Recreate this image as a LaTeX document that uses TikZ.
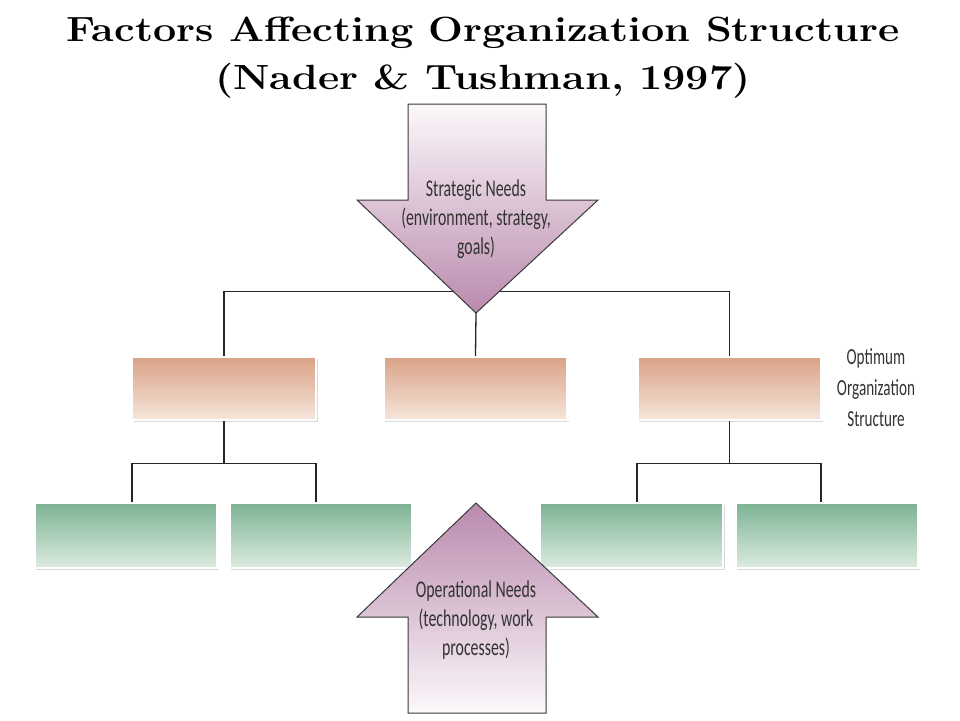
\documentclass[tikz,border=0pt]{standalone}
\usepackage{fontspec}
\usepackage{graphicx}
\usetikzlibrary{shadows}
\newfontfamily\condfont[FakeStretch=0.66]{Carlito}
\definecolor{orgtop}{HTML}{D9A286}
\definecolor{orgbot}{HTML}{F6E6DC}
\definecolor{grntop}{HTML}{7DB393}
\definecolor{grnbot}{HTML}{DDEBE0}
\definecolor{purdark}{HTML}{B98AAD}
\definecolor{purlight}{HTML}{FCF8FB}
\definecolor{edgegray}{HTML}{3A3A3A}
\tikzset{
  orgbox/.style={rectangle, draw=white, line width=2.5pt, minimum width=184pt, minimum height=63pt,
     top color=orgtop, bottom color=orgbot,
     drop shadow={shadow xshift=1.5pt, shadow yshift=-2pt, opacity=0.3, fill=gray}},
  grnbox/.style={rectangle, draw=white, line width=2.5pt, minimum width=183pt, minimum height=65pt,
     top color=grntop, bottom color=grnbot,
     drop shadow={shadow xshift=1.5pt, shadow yshift=-2pt, opacity=0.3, fill=gray}},
  conn/.style={draw=black!85, line width=1.3pt},
  arrowshape/.style={draw=edgegray, line width=1pt, line join=miter},
  needtext/.style={align=center, font=\condfont\fontsize{24}{29}\selectfont, text=black!80},
  titletext/.style={align=center, font=\bfseries\fontsize{35}{48}\selectfont}
}
\begin{document}
\begin{tikzpicture}[x=1pt,y=-1pt]
\useasboundingbox (0,0) rectangle (960,720);
\fill[white] (0,0) rectangle (960,720);

% title
\node[titletext] (title) at (483,58) {\scalebox{1.18}[1]{Factors Affecting Organization Structure}\\\scalebox{1.18}[1]{(Nader \& Tushman, 1997)}};

% level 1 boxes
\node[orgbox] (lo) at (224,388.5) {};
\node[orgbox] (mo) at (475.5,388.5) {};
\node[orgbox] (ro) at (729.5,388.5) {};

% level 2 boxes
\node[grnbox] (g1) at (126,535.5) {};
\node[grnbox] (g2) at (321,535.5) {};
\node[grnbox] (g3) at (631.5,535.5) {};
\node[grnbox] (g4) at (827,535.5) {};

% label
\node[needtext, font=\condfont\fontsize{23}{31}\selectfont] (opt) at (876,388) {Optimum\\Organization\\Structure};

% connectors
\coordinate (tipT) at (476,313);
\draw[conn] (lo.north) -- ++(0,-64) -| (ro.north);
\draw[conn] (tipT) -- (mo.north);
\draw[conn] (lo.south) -- ++(0,42) -| ([xshift=6pt]g1.north);
\draw[conn] (lo.south) ++(0,42) -| ([xshift=-5pt]g2.north);
\draw[conn] (ro.south) -- ++(0,42) -| ([xshift=5.5pt]g3.north);
\draw[conn] (ro.south) ++(0,42) -| ([xshift=-6pt]g4.north);

% strategic needs arrow (down)
\path[arrowshape, top color=purlight, bottom color=purdark]
  (408,104) -- (546,104) -- (546,200) -- (598,200) -- (tipT) -- (357,200) -- (408,200) -- cycle;
\node[needtext] (strat) at (476,219) {Strategic Needs\\(environment, strategy,\\goals)};

% operational needs arrow (up)
\coordinate (tipB) at (476,503);
\path[arrowshape, top color=purdark, bottom color=purlight]
  (tipB) -- (598,617) -- (546,617) -- (546,713) -- (408,713) -- (408,617) -- (357,617) -- cycle;
\node[needtext] (oper) at (476,620) {Operational Needs\\(technology, work\\processes)};
\end{tikzpicture}
\end{document}
